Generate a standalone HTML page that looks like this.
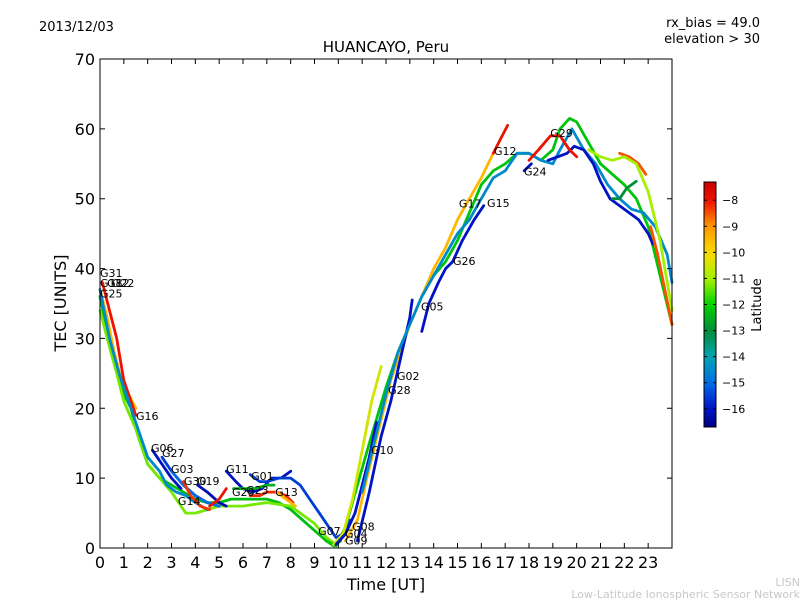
<!DOCTYPE html>
<html><head><meta charset="utf-8"><style>
body{margin:0;background:#fff;}
svg{display:block;font-family:"DejaVu Sans","Liberation Sans",sans-serif;}
</style></head><body>
<svg id="chart" width="800" height="600" viewBox="0 0 800 600">
<rect width="800" height="600" fill="#fff"/>
<text x="39" y="31" font-size="13">2013/12/03</text>
<text x="760" y="27" font-size="13" text-anchor="end">rx_bias = 49.0</text>
<text x="760" y="43" font-size="13" text-anchor="end">elevation &gt; 30</text>
<text x="386" y="52" font-size="15" text-anchor="middle">HUANCAYO, Peru</text>
<g id="plot"></g>
<rect x="100" y="59" width="572" height="489" fill="none" stroke="#000" stroke-width="1"/>
<g id="axes"></g>
<text x="386" y="590" font-size="16" text-anchor="middle">Time [UT]</text>
<text transform="translate(66,303) rotate(-90)" font-size="16" text-anchor="middle">TEC [UNITS]</text>
<defs><linearGradient id="cbgrad" x1="0" y1="1" x2="0" y2="0"></linearGradient></defs>
<rect x="704" y="182" width="12" height="245" fill="url(#cbgrad)" stroke="#000" stroke-width="1"/>
<g id="cbticks"></g>
<text transform="translate(761,305) rotate(-90)" font-size="13" text-anchor="middle">Latitude</text>
<text x="800" y="586" font-size="11" fill="#c8c8c8" text-anchor="end">LISN</text>
<text x="800" y="598" font-size="11" fill="#c8c8c8" text-anchor="end">Low-Latitude Ionospheric Sensor Network</text>
</svg>
<script>
const xTicks=[0,1,2,3,4,5,6,7,8,9,10,11,12,13,14,15,16,17,18,19,20,21,22,23];
const yTicks=[0,10,20,30,40,50,60,70];
const cbTicks=[-8,-9,-10,-11,-12,-13,-14,-15,-16];
const latMin=-16.7, latMax=-7.3;
const seriesLat=[-12.3,-11.3,-9.5,-8,-14.5,-16,-15.5,-15,-8.3,-16.2,-8,-16,-15.5,-12.5,-8.2,-9.5,-12.2,-10.5,-16,-9.5,-8,-16,-16,-14.5,-16,-8,-8.5,-11,-8.5,-16,-13];
const seriesT=[
[0,0.3,0.6,1,1.3,1.6,2,2.5,3,3.5,4,4.5,5,5.5,6,6.5,7,7.5,8,8.5,9,9.5,9.8,10.1],
[0,0.3,0.7,1,1.5,2,2.5,3,3.3,3.6,4,4.5,5,6,7,8,9,9.5,9.9],
[0,0.3,0.6,0.9,1.2,1.5],
[0.1,0.4,0.7,1,1.3,1.5],
[0,0.4,0.8,1.2,1.6,2,2.5,2.8,3.2,3.6,4,4.5],
[2.2,2.6,3,3.4],
[2.6,3,3.5,4,4.5,5],
[3,3.5,4,4.5,5],
[3.5,3.8,4.2,4.6],
[4.1,4.5,5,5.3],
[4.6,5,5.3],
[5.3,5.7,6,6.4,6.8,7.2,7.6,8],
[6.3,6.7,7,7.5,8,8.4,8.8,9.2,9.6,9.9,10.2,10.5],
[5.6,6,6.5,7,7.3],
[6.3,6.7,7,7.4,7.8,8.1],
[7.4,7.8,8.2],
[9.5,9.9,10.3,10.8,11.3,12,12.5,13,13.5,14,14.5,15,15.5,16,16.5,17,17.5,18,18.5,19,19.3,19.7,20,20.5,21,21.5,22,22.5,23,23.5,24],
[9.8,10.2,10.6,11,11.4,11.8],
[9.9,10.3,10.7,11,11.3,11.6],
[10.3,10.8,11.2,11.7,12.2,12.6,13,13.5,14,14.5,15,15.5,16,16.5],
[16.5,16.8,17.1],
[10.8,11.3,11.8,12.2,12.6,13,13.1],
[13.5,13.8,14.2,14.5,14.8,15.2,15.7,16.1],
[11,11.5,12,12.5,13,13.5,14,14.5,15,15.5,16,16.5,17,17.5,18,18.5,19,19.3,19.8,20.3,20.8,21.3,21.8,22.3,22.8,23.3,23.8,24],
[18.8,19.2,19.6,19.9,20.3,20.7,21,21.4,21.8,22.2,22.6,23,23.2],
[18,18.4,18.9,19.3,19.7,20],
[21.8,22.2,22.6,22.9],
[20.5,21,21.5,22,22.5,23,23.5,24],
[23.1,23.4,23.7,24],
[17.8,18.1],
[21.5,21.8,22.1,22.5]
];
const seriesV=[
[36,31,27,22,20,16,12,10,9,8,7,6.5,6.5,7,7,7,7,6.5,5.5,4,2.5,1,0.3,1],
[34,30,25,21,17,12,10,8,6.5,5,5,5.5,6,6,6.5,6,3.5,1.5,0.5],
[37,33,28,24,22,20],
[38,34,30,24,21,19],
[37,30,25,21,17,13,11,9,8,7.5,6.5,5.5],
[14,12,10,8.5],
[13,11,9,7.5,6.5,6],
[11,9,7.5,6.5,6],
[9.5,7.5,6,5.5],
[9,8,6.5,6],
[6,7,8.5],
[11,9.5,8.5,8,8.5,10,10,11],
[10.5,9.5,9.5,10,10,9,7,5,3,1.5,2,4],
[8.5,8.5,8.5,9,9],
[7.5,7.5,8,8,7.5,6.5],
[8,7,6],
[1,0.3,3,9,15,23,28,32,36,39,41,44,48,52,54,55,56.5,56.5,55.5,57,60,61.5,61,58,55,53.5,52,50,46,39,32],
[0.5,2,7,14,21,26],
[0.5,2,5,9,13,18],
[1,4,10,17,24,28,32,36,40,43,47,50,53,56.5],
[56.5,58.5,60.5],
[1,8,16,21,27,33,35.5],
[31,35,38,40,41,44,47,49],
[8,15,22,28,32,36,39,42,45,47,50,53,54,56.5,56.5,55.5,55,57,60,57,55,52,50,48.5,48,46,42,38],
[55.5,56,56.5,57.5,57,55,52.5,50,49,48,47,45,43.5],
[55.5,57,59,59,57,56],
[56.5,56,55,53.5],
[57,56,55.5,56,55,51,44,34],
[46,42,37,32],
[54,55],
[50,50,51.5,52.5]
];
const labelText=["G31","G18","G12","G22","G25","G16","G06","G27","G03","G30","G19","G14","G11","G01","G20","G23","G13","G07","G04","G09","G08","G10","G28","G02","G05","G26","G17","G15","G12","G24","G29"];
const labelT=[0,0,0.3,0.5,0,1.51,2.14,2.6,2.98,3.52,4.07,3.27,5.29,6.34,5.54,6.13,7.35,9.15,10.28,10.28,10.58,11.37,12.09,12.46,13.47,14.81,15.06,16.24,16.53,17.79,18.89];
const labelV=[39.4,37.9,37.9,37.9,36.4,18.9,14.3,13.6,11.3,9.6,9.6,6.7,11.3,10.3,8.0,8.3,8.0,2.4,2.1,1.1,3.1,14.0,22.6,24.6,34.6,41.1,49.3,49.4,56.8,53.9,59.4];

const NS="http://www.w3.org/2000/svg";
const X0=100,X1=672,Y0=548,Y1=59;
function xs(t){return X0+(t/24)*(X1-X0);}
function ys(v){return Y0-(v/70)*(Y0-Y1);}
function cy(l){return 427-(l-latMin)/(latMax-latMin)*245;}
const cmapPos=[0,0.08,0.18,0.29,0.39,0.5,0.6,0.71,0.82,0.92,1];
const cmapCol=[[0,0,130],[0,20,200],[0,110,230],[0,165,175],[0,140,60],[0,210,0],[160,240,0],[250,220,0],[255,150,0],[240,20,0],[200,0,0]];
function cmap(x){
  x=Math.max(0,Math.min(1,x));
  for(let i=1;i<cmapPos.length;i++){
    if(x<=cmapPos[i]){const f=(x-cmapPos[i-1])/(cmapPos[i]-cmapPos[i-1]);const a=cmapCol[i-1],b=cmapCol[i];
      return `rgb(${Math.round(a[0]+(b[0]-a[0])*f)},${Math.round(a[1]+(b[1]-a[1])*f)},${Math.round(a[2]+(b[2]-a[2])*f)})`;}
  }
  return 'rgb(200,0,0)';
}
function latColor(l){return cmap((l-latMin)/(latMax-latMin));}

const plot=document.getElementById('plot');
for(let i=0;i<seriesT.length;i++){
  const p=document.createElementNS(NS,'polyline');
  p.setAttribute('points',seriesT[i].map((t,j)=>xs(t).toFixed(1)+','+ys(seriesV[i][j]).toFixed(1)).join(' '));
  p.setAttribute('fill','none');p.setAttribute('stroke',latColor(seriesLat[i]));
  p.setAttribute('stroke-width','2.8');p.setAttribute('stroke-linejoin','round');p.setAttribute('stroke-linecap','round');
  
  
  plot.appendChild(p);
}
for(let i=0;i<labelText.length;i++){
  const t=document.createElementNS(NS,'text');
  t.setAttribute('x',xs(labelT[i]));t.setAttribute('y',ys(labelV[i])+4);
  t.setAttribute('font-size','11');t.textContent=labelText[i];
  
  
  plot.appendChild(t);
}
const axes=document.getElementById('axes');
xTicks.forEach(h=>{
  const x=xs(h);
  const l=document.createElementNS(NS,'path');
  l.setAttribute('d',`M${x},${Y0}v-5M${x},${Y1}v5`);l.setAttribute('stroke','#000');
  
  
  axes.appendChild(l);
  const t=document.createElementNS(NS,'text');
  t.setAttribute('x',x);t.setAttribute('y',568);t.setAttribute('font-size','16');t.setAttribute('text-anchor','middle');
  t.textContent=h;
  
  
  axes.appendChild(t);
});
yTicks.forEach(v=>{
  const y=ys(v);
  const l=document.createElementNS(NS,'path');
  l.setAttribute('d',`M${X0},${y}h5M${X1},${y}h-5`);l.setAttribute('stroke','#000');
  
  
  axes.appendChild(l);
  const t=document.createElementNS(NS,'text');
  t.setAttribute('x',95);t.setAttribute('y',y+6);t.setAttribute('font-size','16');t.setAttribute('text-anchor','end');
  t.textContent=v;
  
  
  axes.appendChild(t);
});
const grad=document.getElementById('cbgrad');
for(let k=0;k<=40;k++){
  const s=document.createElementNS(NS,'stop');
  s.setAttribute('offset',(k/40));s.setAttribute('stop-color',cmap(k/40));
  grad.appendChild(s);
}
const cbt=document.getElementById('cbticks');
cbTicks.forEach(v=>{
  const y=cy(v);
  const l=document.createElementNS(NS,'path');
  l.setAttribute('d',`M704,${y}h3M716,${y}h-3`);l.setAttribute('stroke','#000');
  
  
  cbt.appendChild(l);
  const t=document.createElementNS(NS,'text');
  t.setAttribute('x',722);t.setAttribute('y',y+4);t.setAttribute('font-size','11');
  t.textContent='\u2212'+Math.abs(v);
  
  
  cbt.appendChild(t);
});
</script>
</body></html>
